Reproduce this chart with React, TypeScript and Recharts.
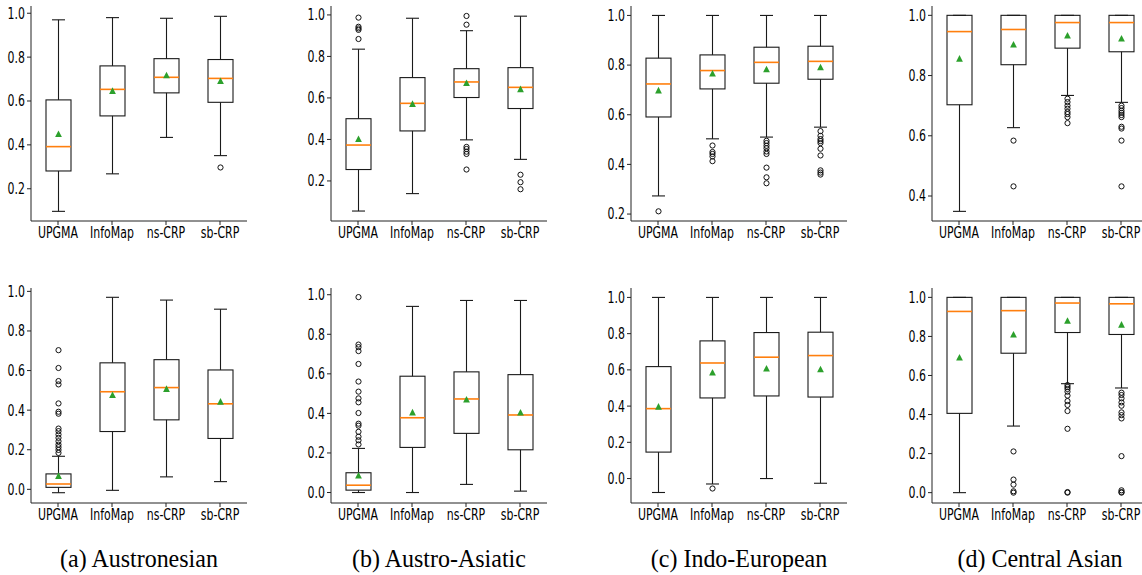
// Box plots of clustering scores per language family (2 x 4 panels)

import { ComposedChart, Bar, XAxis, YAxis, ReferenceArea } from "recharts";

const methods = ["UPGMA", "InfoMap", "ns-CRP", "sb-CRP"];

// every row: [lower whisker, Q1, median, Q3, upper whisker, mean]
const austronesianTop = [
  [0.097, 0.281, 0.392, 0.605, 0.97, 0.449],
  [0.268, 0.532, 0.653, 0.76, 0.98, 0.646],
  [0.434, 0.637, 0.708, 0.793, 0.977, 0.717],
  [0.351, 0.594, 0.703, 0.789, 0.986, 0.691],
];
const austronesianTopFliers = [[], [], [], [0.297]];

const austroAsiaticTop = [
  [0.055, 0.255, 0.373, 0.5, 0.835, 0.402],
  [0.139, 0.441, 0.574, 0.698, 0.984, 0.571],
  [0.398, 0.602, 0.677, 0.741, 0.924, 0.672],
  [0.304, 0.549, 0.651, 0.746, 0.994, 0.642],
];
const austroAsiaticTopFliers = [
  [0.987, 0.943, 0.935, 0.928, 0.884],
  [],
  [0.995, 0.953, 0.364, 0.354, 0.341, 0.33, 0.255],
  [0.23, 0.194, 0.16],
];

const indoEuropeanTop = [
  [0.273, 0.591, 0.724, 0.828, 1.0, 0.698],
  [0.503, 0.704, 0.778, 0.841, 1.0, 0.766],
  [0.51, 0.727, 0.811, 0.872, 1.0, 0.783],
  [0.55, 0.743, 0.815, 0.876, 1.0, 0.791],
];
const indoEuropeanTopFliers = [
  [0.211],
  [0.476, 0.45, 0.442, 0.432, 0.413],
  [0.495, 0.486, 0.475, 0.465, 0.452, 0.442, 0.387, 0.348, 0.324],
  [0.534, 0.515, 0.502, 0.494, 0.486, 0.463, 0.436, 0.376, 0.367, 0.359],
];

const centralAsianTop = [
  [0.349, 0.703, 0.946, 1.0, 1.0, 0.856],
  [0.627, 0.836, 0.953, 1.0, 1.0, 0.903],
  [0.734, 0.891, 0.976, 1.0, 1.0, 0.933],
  [0.711, 0.879, 0.976, 1.0, 1.0, 0.923],
];
const centralAsianTopFliers = [
  [],
  [0.584, 0.432],
  [0.723, 0.712, 0.7, 0.69, 0.679, 0.672, 0.662, 0.642],
  [0.7, 0.692, 0.683, 0.676, 0.669, 0.662, 0.63, 0.624, 0.584, 0.432],
];

const austronesianBottom = [
  [-0.017, 0.01, 0.027, 0.078, 0.167, 0.068],
  [-0.005, 0.292, 0.493, 0.639, 0.97, 0.476],
  [0.063, 0.351, 0.514, 0.655, 0.956, 0.507],
  [0.039, 0.257, 0.432, 0.603, 0.91, 0.443],
];
const austronesianBottomFliers = [
  [0.703, 0.613, 0.547, 0.53, 0.434, 0.392, 0.382, 0.307, 0.294, 0.277, 0.26, 0.243, 0.226, 0.213, 0.199, 0.184],
  [],
  [],
  [],
];

const austroAsiaticBottom = [
  [0.0, 0.012, 0.037, 0.1, 0.223, 0.086],
  [0.0, 0.228, 0.378, 0.588, 0.941, 0.405],
  [0.041, 0.299, 0.473, 0.61, 0.971, 0.47],
  [0.007, 0.216, 0.392, 0.596, 0.971, 0.404],
];
const austroAsiaticBottomFliers = [
  [0.988, 0.748, 0.735, 0.715, 0.65, 0.561, 0.51, 0.476, 0.456, 0.402, 0.348, 0.338, 0.307, 0.282, 0.264, 0.243],
  [],
  [],
  [],
];

const indoEuropeanBottom = [
  [-0.077, 0.146, 0.386, 0.618, 1.0, 0.397],
  [-0.03, 0.445, 0.638, 0.76, 1.0, 0.585],
  [0.0, 0.456, 0.67, 0.806, 1.0, 0.607],
  [-0.026, 0.45, 0.679, 0.808, 1.0, 0.603],
];
const indoEuropeanBottomFliers = [[], [-0.055], [], []];

const centralAsianBottom = [
  [0.0, 0.406, 0.928, 1.0, 1.0, 0.692],
  [0.341, 0.714, 0.932, 1.0, 1.0, 0.81],
  [0.558, 0.82, 0.971, 1.0, 1.0, 0.88],
  [0.536, 0.81, 0.967, 1.0, 1.0, 0.86],
];
const centralAsianBottomFliers = [
  [],
  [0.211, 0.067, 0.041, 0.007, 0.0],
  [0.551, 0.541, 0.531, 0.517, 0.497, 0.469, 0.449, 0.418, 0.327, 0.003, 0.0],
  [0.512, 0.5, 0.483, 0.462, 0.445, 0.411, 0.397, 0.38, 0.187, 0.012, 0.003, 0.0],
];

const captions = ["(a) Austronesian", "(b) Austro-Asiatic", "(c) Indo-European", "(d) Central Asian"];

const topTicks = [0.2, 0.4, 0.6, 0.8, 1.0];
const centralTopTicks = [0.4, 0.6, 0.8, 1.0];
const bottomTicks = [0, 0.2, 0.4, 0.6, 0.8, 1.0];

const PLOT_W = 216;
const PLOT_H = 215;
const AXIS_W = 40;
const AXIS_H = 30;
const TOP_M = 6;
const RIGHT_M = 10;
const colLefts = [31, 331, 631, 932];
const rowTops = [6, 288];

// matplotlib's DejaVu Sans, squeezed horizontally like the source image
const FONT = "'DejaVu Sans', sans-serif";
const SQUEEZE = 0.73;
const TICK_SIZE = 15;

const panels = [
  { stats: austronesianTop, fliers: austronesianTopFliers, domain: [0.053, 1.033], ticks: topTicks, col: 0, row: 0 },
  { stats: austroAsiaticTop, fliers: austroAsiaticTopFliers, domain: [0.007, 1.043], ticks: topTicks, col: 1, row: 0 },
  { stats: indoEuropeanTop, fliers: indoEuropeanTopFliers, domain: [0.172, 1.038], ticks: topTicks, col: 2, row: 0 },
  { stats: centralAsianTop, fliers: centralAsianTopFliers, domain: [0.317, 1.031], ticks: centralTopTicks, col: 3, row: 0 },
  { stats: austronesianBottom, fliers: austronesianBottomFliers, domain: [-0.069, 1.017], ticks: bottomTicks, col: 0, row: 1 },
  { stats: austroAsiaticBottom, fliers: austroAsiaticBottomFliers, domain: [-0.053, 1.034], ticks: bottomTicks, col: 1, row: 1 },
  { stats: indoEuropeanBottom, fliers: indoEuropeanBottomFliers, domain: [-0.135, 1.052], ticks: bottomTicks, col: 2, row: 1 },
  { stats: centralAsianBottom, fliers: centralAsianBottomFliers, domain: [-0.053, 1.048], ticks: bottomTicks, col: 3, row: 1 },
];

// the bar spans [lower whisker, upper whisker]; everything else is placed on that same scale
function BoxShape(props: any) {
  const { x, y, width, height, payload } = props;
  const [lo, q1, med, q3, hi, mean] = payload.stats;
  const py = (v: number) => y + ((hi - v) / (hi - lo)) * height;
  const cx = x + width / 2;
  const cap = 6.5;
  const line = "#1a1a1a";
  const m = py(mean);
  return (
    <g>
      <rect x={x} y={py(q3)} width={width} height={py(q1) - py(q3)} fill="none" stroke={line} strokeWidth={1.1} />
      <line x1={cx} x2={cx} y1={py(q1)} y2={py(lo)} stroke={line} strokeWidth={1.1} />
      <line x1={cx} x2={cx} y1={py(q3)} y2={py(hi)} stroke={line} strokeWidth={1.1} />
      <line x1={cx - cap} x2={cx + cap} y1={py(lo)} y2={py(lo)} stroke={line} strokeWidth={1.1} />
      <line x1={cx - cap} x2={cx + cap} y1={py(hi)} y2={py(hi)} stroke={line} strokeWidth={1.1} />
      <line x1={x} x2={x + width} y1={py(med)} y2={py(med)} stroke="#ff7f0e" strokeWidth={1.6} />
      {payload.fliers.map((f: number, i: number) => (
        <circle key={i} cx={cx} cy={py(f)} r={2.6} fill="none" stroke="#111" strokeWidth={1} />
      ))}
      <polygon
        points={`${cx},${m - 3.6} ${cx - 3.4},${m + 3} ${cx + 3.4},${m + 3}`}
        fill="#2ca02c"
      />
    </g>
  );
}

function XTick(props: any) {
  const { x, y, payload } = props;
  return (
    <text
      transform={`translate(${x},${y}) scale(${SQUEEZE},1)`}
      textAnchor="middle"
      dy="0.74em"
      fontSize={TICK_SIZE}
      fontFamily={FONT}
      fill="#000"
    >
      {payload.value}
    </text>
  );
}

function YTick(props: any) {
  const { x, y, payload } = props;
  return (
    <text
      transform={`translate(${x},${y}) scale(${SQUEEZE},1)`}
      textAnchor="end"
      dy="0.36em"
      fontSize={TICK_SIZE}
      fontFamily={FONT}
      fill="#000"
    >
      {Number(payload.value).toFixed(1)}
    </text>
  );
}

function Panel({ p }: { p: (typeof panels)[number] }) {
  const data = methods.map((name, i) => ({
    name,
    range: [p.stats[i][0], p.stats[i][4]],
    stats: p.stats[i],
    fliers: p.fliers[i],
  }));
  const left = colLefts[p.col] - AXIS_W;
  const top = rowTops[p.row] - TOP_M;

  return (
    <div style={{ position: "absolute", left, top }}>
      <ComposedChart
        width={AXIS_W + PLOT_W + RIGHT_M}
        height={TOP_M + PLOT_H + AXIS_H}
        data={data}
        margin={{ top: TOP_M, right: RIGHT_M, bottom: 0, left: 0 }}
      >
        <XAxis
          dataKey="name"
          height={AXIS_H}
          tick={<XTick />}
          tickSize={4}
          tickMargin={2}
          axisLine={{ stroke: "#222" }}
          tickLine={{ stroke: "#222" }}
          interval={0}
        />
        <YAxis
          type="number"
          domain={p.domain}
          allowDataOverflow
          ticks={p.ticks}
          width={AXIS_W}
          tick={<YTick />}
          tickSize={4}
          tickMargin={2}
          axisLine={{ stroke: "#222" }}
          tickLine={{ stroke: "#222" }}
        />
        <ReferenceArea fill="none" fillOpacity={0} stroke="#222" strokeWidth={1} ifOverflow="visible" />
        <Bar dataKey="range" barSize={25} shape={BoxShape} isAnimationActive={false} />
      </ComposedChart>
    </div>
  );
}

export default function App() {
  return (
    <div
      style={{
        position: "absolute",
        left: 0,
        top: 0,
        width: 1142,
        height: 575,
        overflow: "hidden",
        background: "#fff",
      }}
    >
      {panels.map((p, i) => (
        <Panel key={i} p={p} />
      ))}
      {captions.map((c, i) => (
        <div
          key={c}
          style={{
            position: "absolute",
            left: colLefts[i] - 40,
            width: PLOT_W + 80,
            top: 544,
            textAlign: "center",
            fontFamily: "'Liberation Serif', 'Times New Roman', serif",
            fontSize: 25.5,
            lineHeight: "30px",
            color: "#000",
            whiteSpace: "nowrap",
            transform: "scaleX(0.94)",
            transformOrigin: "center",
          }}
        >
          {c}
        </div>
      ))}
    </div>
  );
}
